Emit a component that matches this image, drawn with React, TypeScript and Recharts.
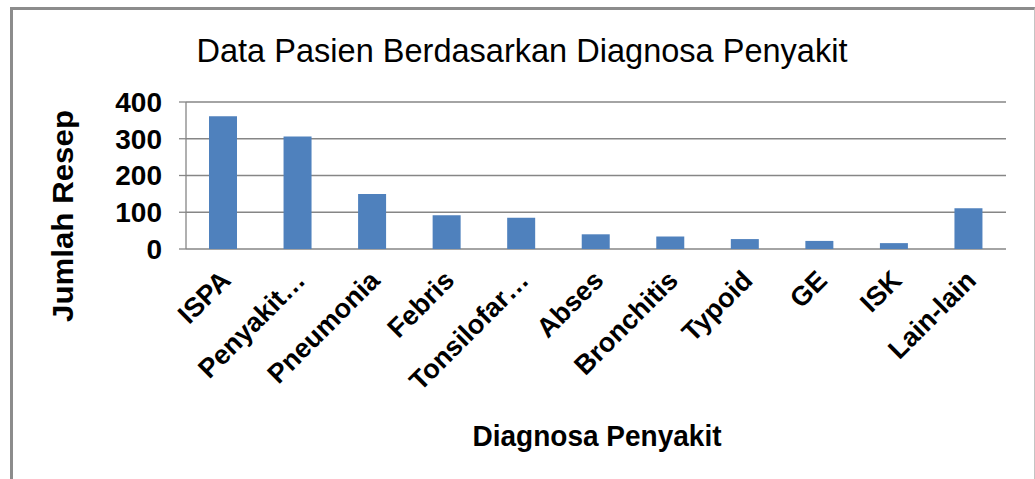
import { BarChart, Bar, XAxis, YAxis, CartesianGrid } from 'recharts';

const categories = ['ISPA', 'Penyakit…', 'Pneumonia', 'Febris', 'Tonsilofar…', 'Abses', 'Bronchitis', 'Typoid', 'GE', 'ISK', 'Lain-lain'];
const jumlahResep = [361, 306, 150, 92, 85, 40, 34, 27, 22, 16, 111];
const yTicks = [0, 100, 200, 300, 400];
const boundaryTicks = [0, 1, 2, 3, 4, 5, 6, 7, 8, 9, 10, 11];

const data = categories.map((name, i) => ({ name, value: jumlahResep[i] }));

const FONT = '"Liberation Sans", Arial, sans-serif';
const GRID = '#868686';

const CategoryTick = (props: any) => {
  const { x, y, payload } = props;
  const ax = x + 9;
  const ay = y + 33;
  return (
    <text
      x={ax}
      y={ay}
      textAnchor="end"
      transform={`rotate(-45, ${ax}, ${ay})`}
      fontFamily={FONT}
      fontSize={27}
      fontWeight="bold"
      fill="#000"
    >
      {payload.value}
    </text>
  );
};

export default function App() {
  return (
    <div style={{ position: 'absolute', left: 0, top: 0, width: 1035, height: 479, overflow: 'hidden', background: '#fff' }}>
      <div
        style={{
          position: 'absolute',
          left: 10,
          top: 7,
          width: 1021,
          height: 490,
          borderLeft: '3px solid #8c8c8c',
          borderTop: '3px solid #8c8c8c',
          borderRight: '1px solid #c4c4c4',
        }}
      />
      <div style={{ position: 'absolute', left: 0, top: 0 }}>
        <BarChart width={1035} height={479} data={data} margin={{ top: 102, right: 29, left: 0, bottom: 30 }}>
          <CartesianGrid xAxisId="cat" vertical={false} stroke={GRID} strokeWidth={1.3} />
          <XAxis
            xAxisId="grid"
            type="number"
            domain={[0, 11]}
            ticks={boundaryTicks}
            tick={false}
            tickSize={8}
            height={0}
            axisLine={{ stroke: GRID, strokeWidth: 1.3 }}
            tickLine={{ stroke: GRID, strokeWidth: 1.3 }}
            allowDataOverflow
          />
          <XAxis
            xAxisId="cat"
            dataKey="name"
            interval={0}
            axisLine={false}
            tickLine={false}
            tickSize={0}
            tickMargin={0}
            height={200}
            tick={<CategoryTick />}
          />
          <YAxis
            domain={[0, 400]}
            ticks={yTicks}
            interval={0}
            width={186}
            tickSize={7}
            tickMargin={17}
            axisLine={{ stroke: GRID, strokeWidth: 1.3 }}
            tickLine={{ stroke: GRID, strokeWidth: 1.3 }}
            tick={{ fontFamily: FONT, fontSize: 28, fontWeight: 'bold', fill: '#000' }}
          />
          <Bar xAxisId="cat" dataKey="value" fill="#4f81bd" barSize={28} isAnimationActive={false} />
        </BarChart>
      </div>
      <svg width={1035} height={479} style={{ position: 'absolute', left: 0, top: 0, pointerEvents: 'none' }}>
        <text x={522} y={62} textAnchor="middle" fontFamily={FONT} fontSize={33} textLength={651} lengthAdjust="spacingAndGlyphs" fill="#000">
          Data Pasien Berdasarkan Diagnosa Penyakit
        </text>
        <text
          x={73}
          y={216}
          textAnchor="middle"
          transform="rotate(-90, 73, 216)"
          fontFamily={FONT}
          fontSize={29}
          fontWeight="bold"
          textLength={212}
          lengthAdjust="spacingAndGlyphs"
          fill="#000"
        >
          Jumlah Resep
        </text>
        <text x={597} y={446} textAnchor="middle" fontFamily={FONT} fontSize={29} fontWeight="bold" textLength={249} lengthAdjust="spacingAndGlyphs" fill="#000">
          Diagnosa Penyakit
        </text>
      </svg>
    </div>
  );
}
